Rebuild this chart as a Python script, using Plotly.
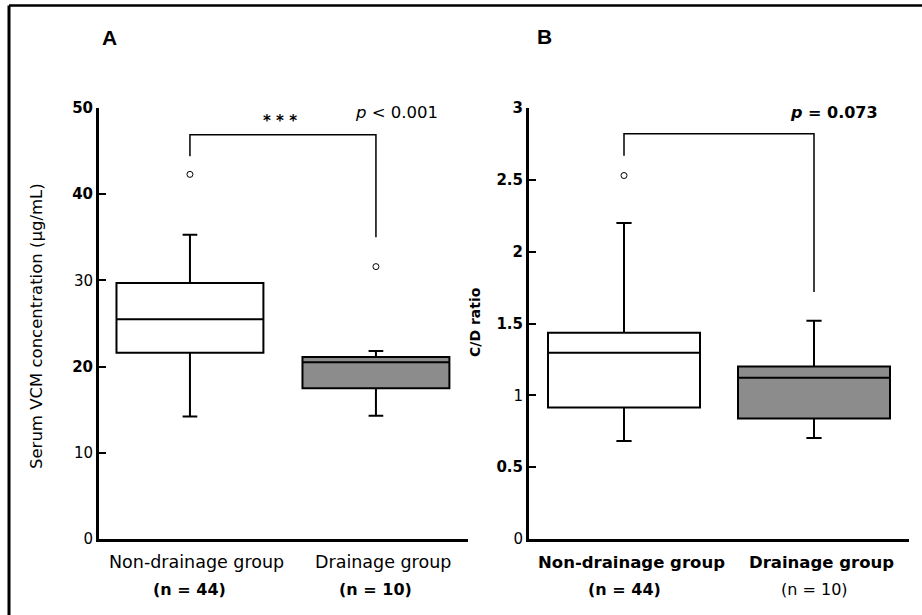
import plotly.graph_objects as go

W, H = 922, 615

groups = ["Non-drainage group", "Drainage group"]

# Panel A: Serum VCM concentration (ug/mL)
a_q1 = [21.6, 17.5]
a_median = [25.5, 20.5]
a_q3 = [29.7, 21.1]
a_lower = [14.2, 14.3]
a_upper = [35.3, 21.8]
a_outlier_groups = ["Non-drainage group", "Drainage group"]
a_outliers = [42.3, 31.6]
a_bracket = [44.4, 46.9, 46.9, 35.0]
a_yticks = [0, 10, 20, 30, 40, 50]
a_yticktext = ["0", "10", "<b>20</b>", "30", "<b>40</b>", "<b>50</b>"]
a_xlabels = ["Non-drainage group", "Drainage group"]
a_nlabels = ["<b>(n = 44)</b>", "<b>(n = 10)</b>"]

# Panel B: C/D ratio
b_q1 = [0.915, 0.838]
b_median = [1.297, 1.123]
b_q3 = [1.435, 1.20]
b_lower = [0.683, 0.703]
b_upper = [2.20, 1.52]
b_outlier_groups = ["Non-drainage group"]
b_outliers = [2.53]
b_bracket = [2.667, 2.82, 2.82, 1.72]
b_yticks = [0, 0.5, 1, 1.5, 2, 2.5, 3]
b_yticktext = ["0", "<b>0.5</b>", "1", "<b>1.5</b>", "<b>2</b>", "<b>2.5</b>", "<b>3</b>"]
b_xlabels = ["<b>Non-drainage group</b>", "<b>Drainage group</b>"]
b_nlabels = ["<b>(n = 44)</b>", "(n = 10)"]

fills = ["white", "#8c8c8c"]
FONT = "DejaVu Sans"


def px(x):
    return x / W


def py(y):
    return 1 - y / H


fig = go.Figure()

for xa, ya, q1, med, q3, lo, up, width in [
    ("x", "y", a_q1, a_median, a_q3, a_lower, a_upper, 0.79),
    ("x2", "y2", b_q1, b_median, b_q3, b_lower, b_upper, 0.80),
]:
    for i, g in enumerate(groups):
        fig.add_trace(go.Box(
            x=[g], q1=[q1[i]], median=[med[i]], q3=[q3[i]],
            lowerfence=[lo[i]], upperfence=[up[i]],
            boxpoints=False, width=width, whiskerwidth=0.1,
            fillcolor=fills[i], line=dict(color="black", width=2),
            xaxis=xa, yaxis=ya, hoverinfo="skip",
        ))

# outliers
fig.add_trace(go.Scatter(x=a_outlier_groups, y=a_outliers, mode="markers",
                         marker=dict(symbol="circle-open", size=6, color="black", line=dict(width=1)),
                         xaxis="x", yaxis="y", hoverinfo="skip"))
fig.add_trace(go.Scatter(x=b_outlier_groups, y=b_outliers, mode="markers",
                         marker=dict(symbol="circle-open", size=6, color="black", line=dict(width=1)),
                         xaxis="x2", yaxis="y2", hoverinfo="skip"))

# brackets
bx = [groups[0], groups[0], groups[1], groups[1]]
fig.add_trace(go.Scatter(x=bx, y=a_bracket, mode="lines", line=dict(color="black", width=1.5),
                         xaxis="x", yaxis="y", hoverinfo="skip"))
fig.add_trace(go.Scatter(x=bx, y=b_bracket, mode="lines", line=dict(color="black", width=1.5),
                         xaxis="x2", yaxis="y2", hoverinfo="skip"))

ydom = [py(539), py(108)]
axis_common = dict(showline=True, linecolor="black", linewidth=3, showgrid=False,
                   zeroline=False, automargin=False)

fig.update_layout(
    template="none",
    width=W, height=H,
    margin=dict(l=0, r=0, t=0, b=0, pad=0, autoexpand=False),
    paper_bgcolor="white", plot_bgcolor="white",
    showlegend=False, hovermode=False,
    font=dict(family=FONT, color="black"),
    xaxis=dict(domain=[px(99), px(468)], type="category", range=[-0.489, 1.495],
               tickvals=groups, showticklabels=False, ticks="",
               anchor="y", **axis_common),
    yaxis=dict(domain=ydom, range=[0, 50], tickvals=a_yticks, ticktext=a_yticktext,
               ticks="inside", ticklen=7, tickwidth=2, tickcolor="black",
               tickfont=dict(size=15), anchor="x", **axis_common),
    xaxis2=dict(domain=[px(529), px(909)], type="category", range=[-0.5, 1.5],
                tickvals=groups, showticklabels=False, ticks="",
                anchor="y2", **axis_common),
    yaxis2=dict(domain=ydom, range=[0, 3], tickvals=b_yticks, ticktext=b_yticktext,
                ticks="inside", ticklen=7, tickwidth=2, tickcolor="black",
                tickfont=dict(size=15), anchor="x2", **axis_common),
)

annotations = [
    dict(text="<b>A</b>", x=px(109), y=py(37), font=dict(size=21, family="Liberation Sans")),
    dict(text="<b>B</b>", x=px(544), y=py(36), font=dict(size=21, family="Liberation Sans")),
    dict(text="<b>* * *</b>", x=px(280), y=py(121), font=dict(size=15)),
    dict(text="<i>p</i> < 0.001", x=px(396), y=py(112), font=dict(size=16.5)),
    dict(text="<b><i>p</i> = 0.073</b>", x=px(834), y=py(113), font=dict(size=16)),
    dict(text="Serum VCM concentration (μg/mL)", x=px(37), y=py(326), textangle=-90,
         font=dict(size=16.5)),
    dict(text="<b>C/D ratio</b>", x=px(475), y=py(322), textangle=-90, font=dict(size=14)),
]
for a in annotations:
    a.update(xref="paper", yref="paper")

# category labels under each x axis (two lines)
for xref, labels, nlabels, size1 in [("x", a_xlabels, a_nlabels, 17.5),
                                     ("x2", b_xlabels, b_nlabels, 16.5)]:
    for i, g in enumerate(groups):
        annotations.append(dict(text=labels[i], xref=xref, x=g, xshift=7,
                                yref="paper", y=py(562), font=dict(size=size1)))
        annotations.append(dict(text=nlabels[i], xref=xref, x=g, xshift=0,
                                yref="paper", y=py(589), font=dict(size=16)))

for a in annotations:
    a.update(showarrow=False, xanchor="center", yanchor="middle")
fig.update_layout(annotations=annotations)

# frame lines (top and left)
fig.update_layout(shapes=[
    dict(type="line", xref="paper", yref="paper", x0=px(9), x1=1, y0=py(5.5), y1=py(5.5),
         line=dict(color="black", width=2.5)),
    dict(type="line", xref="paper", yref="paper", x0=px(9), x1=px(9), y0=py(5.5), y1=0,
         line=dict(color="black", width=3)),
])

fig.write_html("out.html", config={"displayModeBar": False, "staticPlot": True},
               post_script="document.body.style.margin='0';document.body.style.overflow='hidden';")
